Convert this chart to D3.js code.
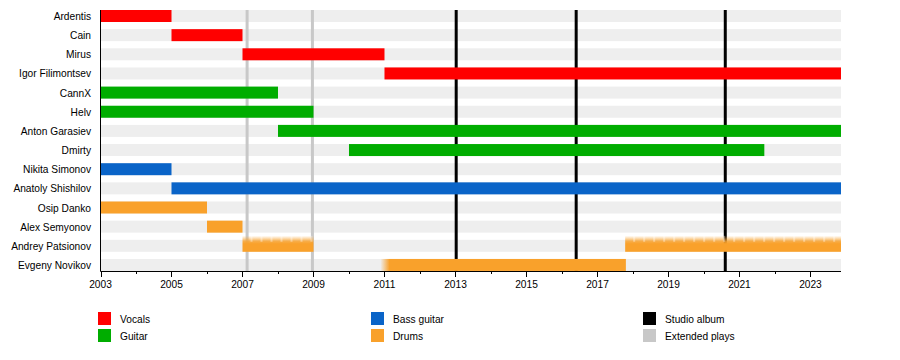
<!DOCTYPE html>
<html><head><meta charset="utf-8">
<script src="https://cdn.jsdelivr.net/npm/d3@7"></script>
<style>body{margin:0;background:#fff}svg{display:block;font-family:"Liberation Sans",Arial,sans-serif}</style>
</head><body><svg id="c" width="900" height="360"></svg>
<script>
const members = ["Ardentis","Cain","Mirus","Igor Filimontsev","CannX","Helv","Anton Garasiev","Dmirty","Nikita Simonov","Anatoly Shishilov","Osip Danko","Alex Semyonov","Andrey Patsionov","Evgeny Novikov"];
const periodMember = ["Ardentis","Cain","Mirus","Igor Filimontsev","CannX","Helv","Anton Garasiev","Dmirty","Nikita Simonov","Anatoly Shishilov","Osip Danko","Alex Semyonov","Andrey Patsionov","Andrey Patsionov","Evgeny Novikov"];
const periodRole   = ["Vocals","Vocals","Vocals","Vocals","Guitar","Guitar","Guitar","Guitar","Bass guitar","Bass guitar","Drums","Drums","Drums","Drums","Drums"];
const periodStart  = [2003,2005,2007,2011,2003,2003,2008,2010,2003,2005,2003,2006,2007,2017.78,2011];
const periodEnd    = [2005,2007,2011,2023.86,2008,2009,2023.86,2021.7,2005,2023.86,2006,2007,2009,2023.86,2017.8];
const periodFade   = ["none","none","none","none","none","none","none","none","none","none","none","none","top","top","left"];
const studioAlbums = [2013.02,2016.4,2020.6];
const extendedPlays = [2007.13,2008.97];
const roles = ["Vocals","Guitar","Bass guitar","Drums"];
const roleColors = ["#ff0000","#00ad00","#0a64c8","#f9a12b"];
const tickYears = [2003,2005,2007,2009,2011,2013,2015,2017,2019,2021,2023];
const minorYears = d3.range(2003,2024);
const yearStart = 2003, yearEnd = 2023.86;

const svg = d3.select("#c");
const fs = 10.2;
const x = d3.scaleLinear().domain([yearStart, yearEnd]).range([100.5, 841]);
const y = d3.scalePoint().domain(members).range([16, 16 + 13*19.15]);
const color = d3.scaleOrdinal().domain(roles).range(roleColors);
const bh = 12;
const yTop = 10, yBottom = 271;

const defs = svg.append("defs");
const gTop = defs.append("linearGradient").attr("id","fadeTop").attr("x1",0).attr("x2",0).attr("y1",0).attr("y2",1);
gTop.append("stop").attr("offset","0").attr("stop-color","#f9a12b").attr("stop-opacity",0);
gTop.append("stop").attr("offset","0.35").attr("stop-color","#f9a12b").attr("stop-opacity",0.85);
gTop.append("stop").attr("offset","0.5").attr("stop-color","#f9a12b").attr("stop-opacity",1);
gTop.append("stop").attr("offset","1").attr("stop-color","#f9a12b").attr("stop-opacity",1);

// background rows
svg.append("g").selectAll("rect").data(members).join("rect")
  .attr("x", x(yearStart)).attr("width", x(yearEnd)-x(yearStart))
  .attr("y", d => y(d)-bh/2).attr("height", bh).attr("fill","#eeeeee");

// EP lines
svg.append("g").selectAll("line").data(extendedPlays).join("line")
  .attr("x1", d=>x(d)).attr("x2", d=>x(d)).attr("y1", yTop).attr("y2", yBottom)
  .attr("stroke","#c8c8c8").attr("stroke-width",3);
// Studio lines
svg.append("g").selectAll("line").data(studioAlbums).join("line")
  .attr("x1", d=>x(d)).attr("x2", d=>x(d)).attr("y1", yTop).attr("y2", yBottom)
  .attr("stroke","#000").attr("stroke-width",3);

// bars
const periods = periodMember.map((m,i)=>({m, role:periodRole[i], s:periodStart[i], e:periodEnd[i], fade:periodFade[i]}));
const barG = svg.append("g");
periods.forEach((p,i)=>{
  const x0 = x(p.s), x1 = x(p.e), yc = y(p.m);
  if (p.fade === "none") {
    barG.append("rect").attr("x",x0).attr("width",x1-x0).attr("y",yc-bh/2).attr("height",bh).attr("fill",color(p.role));
  } else if (p.fade === "top") {
    barG.append("rect").attr("x",x0).attr("width",x1-x0).attr("y",yc-bh/2-4).attr("height",bh+4).attr("fill","url(#fadeTop)");
    const n = Math.floor((x1-x0)/10);
    barG.append("g").selectAll("rect").data(d3.range(n)).join("rect")
      .attr("x", k => x0 + k*10 + 8).attr("width",2).attr("y", yc-bh/2-4).attr("height",6)
      .attr("fill","#ffffff").attr("opacity",0.35);
  } else {
    const gid = "fadeLeft"+i;
    const gl = defs.append("linearGradient").attr("id",gid).attr("gradientUnits","userSpaceOnUse")
      .attr("x1",x0-4).attr("x2",x0+5).attr("y1",0).attr("y2",0);
    gl.append("stop").attr("offset","0").attr("stop-color",color(p.role)).attr("stop-opacity",0);
    gl.append("stop").attr("offset","1").attr("stop-color",color(p.role)).attr("stop-opacity",1);
    barG.append("rect").attr("x",x0-4).attr("width",x1-x0+4).attr("y",yc-bh/2).attr("height",bh).attr("fill","url(#"+gid+")");
  }
});

// axes
svg.append("line").attr("x1",x(yearStart)).attr("x2",x(yearStart)).attr("y1",yTop).attr("y2",yBottom+0.5).attr("stroke","#000").attr("stroke-width",1);
svg.append("line").attr("x1",x(yearStart)).attr("x2",x(yearEnd)).attr("y1",yBottom+0.5).attr("y2",yBottom+0.5).attr("stroke","#000").attr("stroke-width",1);
svg.append("g").selectAll("line").data(minorYears).join("line")
  .attr("x1",d=>Math.round(x(d))+0.5).attr("x2",d=>Math.round(x(d))+0.5)
  .attr("y1",yBottom).attr("y2",d=> tickYears.includes(d) ? yBottom+6 : yBottom+3)
  .attr("stroke","#000").attr("stroke-width",1);
svg.append("g").selectAll("text").data(tickYears).join("text")
  .attr("x",d=>x(d)).attr("y",yBottom+17).attr("text-anchor","middle")
  .attr("font-size",fs).attr("fill","#000").text(d=>d);

// member labels
svg.append("g").selectAll("text").data(members).join("text")
  .attr("x",91).attr("y",d=>y(d)+4).attr("text-anchor","end")
  .attr("font-size",fs).attr("fill","#000").text(d=>d);

// legend
const legendItems = [
  {label:"Vocals", fill:color("Vocals"), x:98, y:312},
  {label:"Guitar", fill:color("Guitar"), x:98, y:329},
  {label:"Bass guitar", fill:color("Bass guitar"), x:371, y:312},
  {label:"Drums", fill:color("Drums"), x:371, y:329},
  {label:"Studio album", fill:"#000", x:643, y:312},
  {label:"Extended plays", fill:"#c8c8c8", x:643, y:329}
];
const lg = svg.append("g").selectAll("g").data(legendItems).join("g");
lg.append("rect").attr("x",d=>d.x).attr("y",d=>d.y).attr("width",13).attr("height",13).attr("fill",d=>d.fill);
lg.append("text").attr("x",d=>d.x+22).attr("y",d=>d.y+10.5).attr("font-size",fs).attr("fill","#000").text(d=>d.label);
</script></body></html>
